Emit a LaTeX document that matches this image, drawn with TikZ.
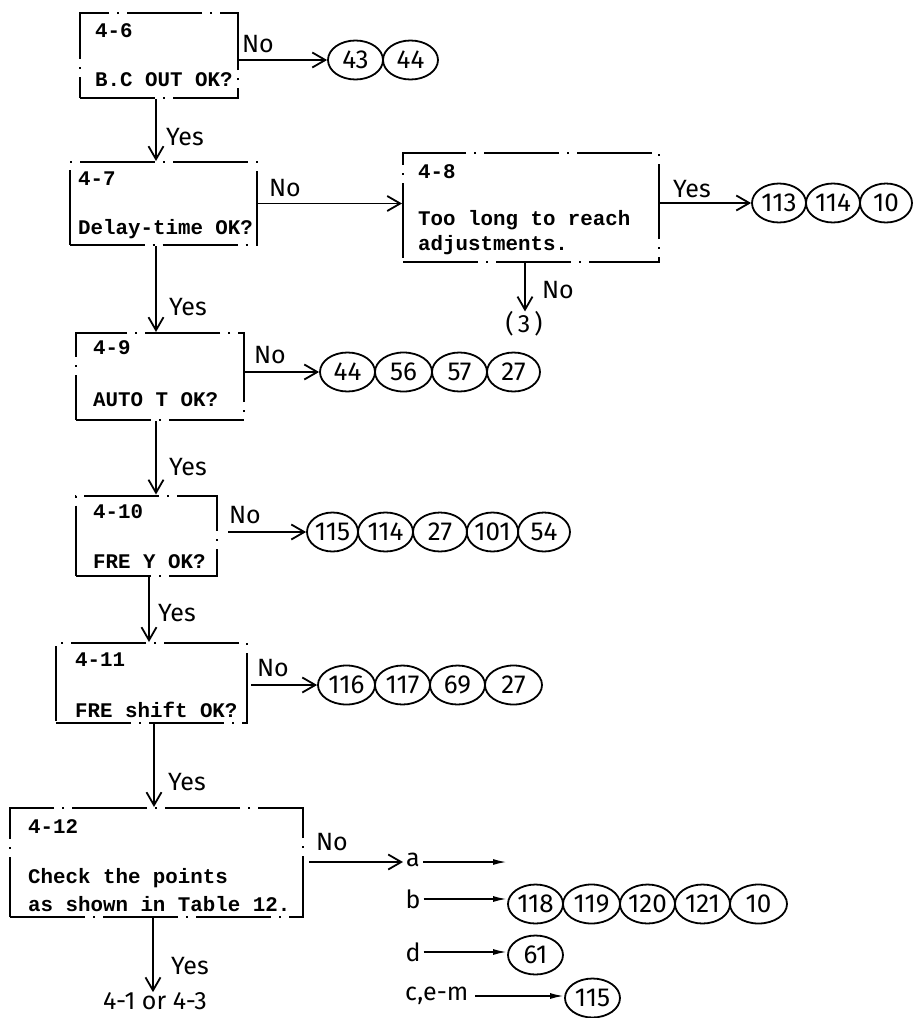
\documentclass[tikz,border=0pt]{standalone}
\usepackage{fontspec}
\setmainfont{Fira Sans}
\newfontfamily\tw{Liberation Mono}
\usetikzlibrary{arrows.meta,shapes.geometric}
\tikzset{
  box/.style={draw, rectangle, inner sep=0pt, line width=2pt,
    dash pattern=on 75pt off 8pt on 2pt off 8pt},
  tt/.style={font=\tw\bfseries\fontsize{20.8}{24}\selectfont, anchor=west, inner sep=0pt},
  lab/.style={font=\fontsize{25}{28}\selectfont, inner sep=0pt},
  ell/.style={ellipse, draw, line width=1.8pt, inner sep=0pt, minimum height=39pt,
    font=\fontsize{26}{28}\selectfont},
  arr/.style={line width=1.8pt, -{Straight Barb[length=13pt,width=15pt,line width=1.8pt]}},
  farr/.style={line width=1.8pt, -{Latex[length=14pt,width=6pt]}},
}
\begin{document}
\begin{tikzpicture}[x=1pt,y=-1pt]
\useasboundingbox (0,0) rectangle (913,1018);

% ---------- boxes ----------
\node[box, minimum width=158pt, minimum height=85pt] (b46) at (159,55.5) {};
\node[tt] (t46a) at (95,31) {4-6};
\node[tt] (t46b) at (95,80) {B.C OUT OK?};

\node[box, minimum width=187pt, minimum height=83pt] (b47) at (163,203.5) {};
\node[tt] (t47a) at (78,179) {4-7};
\node[tt] (t47b) at (78,229) {Delay-time OK?};

\node[box, minimum width=256pt, minimum height=109pt] (b48) at (531,207.5) {};
\node[tt] (t48a) at (418,172) {4-8};
\node[tt] (t48b) at (418,220) {Too long to reach};
\node[tt] (t48c) at (418,245) {adjustments.};

\node[box, minimum width=168pt, minimum height=87pt] (b49) at (160,376.5) {};
\node[tt] (t49a) at (93,348) {4-9};
\node[tt] (t49b) at (93,400) {AUTO T OK?};

\node[box, minimum width=141pt, minimum height=80pt] (b410) at (146.5,535.5) {};
\node[tt] (t410a) at (93,512) {4-10};
\node[tt] (t410b) at (93,562) {FRE Y OK?};

\node[box, minimum width=191pt, minimum height=80pt] (b411) at (151.5,683) {};
\node[tt] (t411a) at (75,660) {4-11};
\node[tt] (t411b) at (75,710) {FRE shift OK?};

\node[box, minimum width=293pt, minimum height=109pt] (b412) at (156.5,862.5) {};
\node[tt] (t412a) at (28,827) {4-12};
\node[tt] (t412b) at (28,878) {Check the points};
\node[tt] (t412c) at (28,904) {as shown in Table 12.};

% ---------- ellipses ----------
\node[ell, minimum width=55pt] (e43) at (355.5,60) {43};
\node[ell, minimum width=55pt] (e44a) at (410.5,60) {44};

\node[ell, minimum width=54pt] (e113) at (779,203) {113};
\node[ell, minimum width=54pt] (e114a) at (833,203) {114};
\node[ell, minimum width=52pt] (e10a) at (886,203) {10};

\node[ell, minimum width=55pt] (e44b) at (347.5,372) {44};
\node[ell, minimum width=57pt] (e56) at (403.5,372) {56};
\node[ell, minimum width=55pt] (e57) at (459.5,372) {57};
\node[ell, minimum width=53pt] (e27a) at (513.5,372) {27};

\node[ell, minimum width=51pt] (e115a) at (332.5,532) {115};
\node[ell, minimum width=55pt] (e114b) at (385.5,532) {114};
\node[ell, minimum width=54pt] (e27b) at (440,532) {27};
\node[ell, minimum width=51pt] (e101) at (492.5,532) {101};
\node[ell, minimum width=52pt] (e54) at (544,532) {54};

\node[ell, minimum width=57pt] (e116) at (346.5,685) {116};
\node[ell, minimum width=55pt] (e117) at (402.5,685) {117};
\node[ell, minimum width=55pt] (e69) at (457.5,685) {69};
\node[ell, minimum width=57pt] (e27c) at (513.5,685) {27};

\node[ell, minimum width=55pt] (e118) at (535.5,904) {118};
\node[ell, minimum width=57pt] (e119) at (591.5,904) {119};
\node[ell, minimum width=55pt] (e120) at (647.5,904) {120};
\node[ell, minimum width=55pt] (e121) at (702.5,904) {121};
\node[ell, minimum width=57pt] (e10b) at (758.5,904) {10};

\node[ell, minimum width=55pt] (e61) at (535.5,955) {61};
\node[ell, minimum width=55pt] (e115b) at (592.5,998) {115};

% ---------- labels ----------
\node[lab] (n46) at (258,44) {No};
\node[lab] (y46) at (185,137) {Yes};
\node[lab] (n47) at (285,188) {No};
\node[lab] (y48) at (692,189) {Yes};
\node[lab] (n48) at (558,290) {No};
\node[lab] (p3) at (524,324) {(\,3\,)};
\node[lab] (y47) at (188,307) {Yes};
\node[lab] (n49) at (270,355) {No};
\node[lab] (y49) at (188,467) {Yes};
\node[lab] (n410) at (245,515) {No};
\node[lab] (y410) at (177,613) {Yes};
\node[lab] (n411) at (273,668) {No};
\node[lab] (y411) at (187,782) {Yes};
\node[lab] (n412) at (332,842) {No};
\node[lab] (y412) at (190,966) {Yes};
\node[lab] (t41) at (155,1001) {4-1 or 4-3};
\node[lab, inner sep=3pt] (na) at (413,860) {a};
\node[lab, inner sep=3pt] (nb) at (413,899) {b};
\node[lab, inner sep=3pt] (nd) at (413,952) {d};
\node[lab, inner sep=3pt, anchor=west] (nc) at (402,996) {c,e-m};
\coordinate (ca) at (507,862);

% ---------- connectors ----------
\draw[arr] (e43.west -| b46.east) -- (e43.west);
\draw[arr] ([xshift=-3pt]b46.south) -- ([xshift=-3pt]b46.south |- b47.north);
\draw[arr] (b47.east) -- (b47.east -| b48.west);
\draw[arr] (e113.west -| b48.east) -- (e113.west);
\draw[arr] ([xshift=-6pt]b48.south) -- ([xshift=-6pt]b48.south |- p3.north);
\draw[arr] ([xshift=-7pt]b47.south) -- ([xshift=-7pt]b47.south |- b49.north);
\draw[arr] (e44b.west -| b49.east) -- (e44b.west);
\draw[arr] ([xshift=-4pt]b49.south) -- ([xshift=-4pt]b49.south |- b410.north);
\draw[arr] ([xshift=10pt]e115a.west -| b410.east) -- (e115a.west);
\draw[arr] ([xshift=2.5pt]b410.south) -- ([xshift=2.5pt]b410.south |- b411.north);
\draw[arr] ([xshift=3pt]e116.west -| b411.east) -- (e116.west);
\draw[arr] ([xshift=2.5pt]b411.south) -- ([xshift=2.5pt]b411.south |- b412.north);
\draw[arr] ([xshift=5pt]ca -| b412.east) -- (ca -| na.west);
\draw[arr] ([xshift=-3.5pt]b412.south) -- ([xshift=-3.5pt]b412.south |- t41.north);
\draw[farr] (ca -| na.east) -- (ca);
\draw[farr] (nb.east) -- (nb.east -| e118.west);
\draw[farr] (nd.east) -- (nd.east -| e61.west);
\draw[farr] ([xshift=4pt]nc.east) -- (nc.east -| e115b.west);
\end{tikzpicture}
\end{document}
